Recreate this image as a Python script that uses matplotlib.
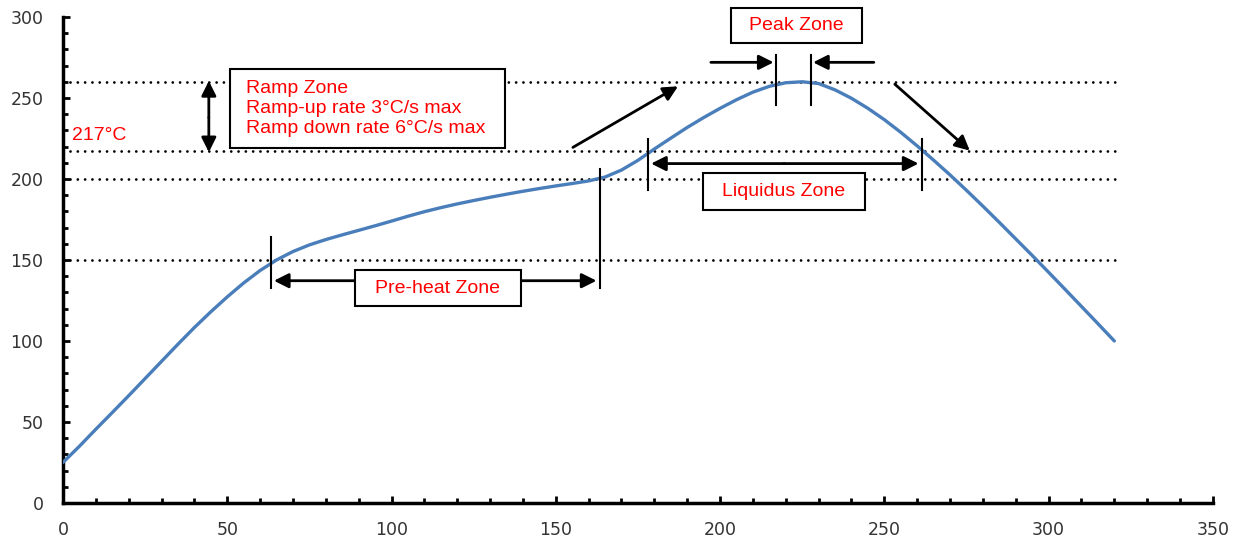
import numpy as np
import matplotlib
matplotlib.use("Agg")
import matplotlib.pyplot as plt
from matplotlib.patches import Rectangle

ftsize = 12.5
txtsize = 14

### Profil de refusion

temps = [0, 5, 10, 15, 20, 25, 30, 35, 40, 45, 50, 55, 60, 65, 70, 75, 80, 85, 90, 95,
         100, 105, 110, 115, 120, 125, 130, 135, 140, 145, 150, 155, 160, 165, 170, 175,
         180, 185, 190, 195, 200, 205, 210, 215, 220, 225, 230, 235, 240, 245, 250, 255,
         260, 265, 270, 275, 280, 285, 290, 295, 300, 305, 310, 315, 320]
temp = [25, 35, 45.5, 55.8, 66.2, 76.8, 87.4, 98, 108.3, 118, 127.2, 135.8, 143.5, 150, 155.2, 159.3,
        162.6, 165.5, 168.3, 171.1, 174, 177, 179.8, 182.3, 184.6, 186.7, 188.7, 190.6, 192.4, 194.1,
        195.7, 197.2, 198.8, 201.2, 205.5, 211.5, 218.5, 225.2, 231.8, 237.9, 243.6, 248.9, 253.6,
        257.2, 259.4, 260, 258.9, 255, 249.8, 243.6, 236.6, 228.8, 220.4, 211.6, 202.5, 193, 183.2,
        173.2, 163, 152.8, 142.4, 131.9, 121.3, 110.7, 100]

niveaux = [260, 217, 200, 150]

xticks = [0, 50, 100, 150, 200, 250, 300, 350]
yticks = [0, 50, 100, 150, 200, 250, 300]

rouge = '#ff0000'
police = 'Liberation Sans'

fig = plt.figure(figsize=(12.44, 5.44), dpi=100)
ax = fig.add_axes([0.0506, 0.0754, 0.9244, 0.8934])

for n in niveaux:
    ax.plot([2, 321], [n, n], color='k', lw=2, linestyle=(0, (0.01, 2.62)),
            dash_capstyle='round', zorder=1)

ax.plot(temps, temp, color='#4a7ebb', lw=2.4, solid_joinstyle='round',
        solid_capstyle='round', zorder=3)

def fleche(x0, y0, x1, y1):
    ax.annotate('', xy=(x1, y1), xytext=(x0, y0),
                arrowprops=dict(arrowstyle='-|>', color='k', lw=2,
                                mutation_scale=22, shrinkA=0, shrinkB=0),
                annotation_clip=False, zorder=4)

def boite(x0, x1, y0, y1):
    ax.add_patch(Rectangle((x0, y0), x1 - x0, y1 - y0, facecolor='white',
                           edgecolor='k', lw=1.5, zorder=5, clip_on=False))

def trait(x, y0, y1):
    ax.plot([x, x], [y0, y1], color='k', lw=1.5, zorder=4, clip_on=False)

def texte(x, y, s, ha='left'):
    ax.text(x, y, s, color=rouge, fontsize=txtsize, ha=ha, va='center',
            zorder=6, family=police)

### Ramp zone
fleche(44.4, 238, 44.4, 260.5)
fleche(44.4, 238, 44.4, 216.5)
boite(50.8, 134.5, 219, 268)
texte(55.7, 256, 'Ramp Zone')
texte(55.7, 243.5, 'Ramp-up rate 3°C/s max')
texte(55.7, 231, 'Ramp down rate 6°C/s max')
texte(2.7, 227, '217°C')

### Peak zone
boite(203.3, 243.2, 283.7, 305.8)
texte(223.3, 294.8, 'Peak Zone', ha='center')
trait(217, 245.5, 276.3)
trait(227.6, 245.5, 276.3)
fleche(197.2, 272, 216.3, 272)
fleche(246.8, 272, 228.3, 272)

### Fleches diagonales
fleche(155.2, 219.5, 187.2, 257.2)
fleche(253.2, 258.5, 276, 217.5)

### Liquidus zone
trait(178, 193.2, 224.6)
trait(261.4, 193.2, 224.6)
fleche(219.5, 209.5, 179, 209.5)
fleche(219.5, 209.5, 260.4, 209.5)
boite(194.8, 244.1, 181, 203.7)
texte(219.4, 192.3, 'Liquidus Zone', ha='center')

### Pre-heat zone
trait(63.2, 133, 164.3)
trait(163.4, 133, 206)
fleche(113, 137.2, 64.2, 137.2)
fleche(113, 137.2, 162.4, 137.2)
boite(88.9, 139.4, 121.8, 144)
texte(114.1, 132.6, 'Pre-heat Zone', ha='center')

### Axes
ax.set_xlim(0, 350)
ax.set_ylim(0, 300)
ax.set_xticks(xticks)
ax.set_yticks(yticks)
ax.set_xticks(np.arange(0, 351, 10), minor=True)
ax.set_yticks(np.arange(0, 301, 10), minor=True)
ax.spines['top'].set_visible(False)
ax.spines['right'].set_visible(False)
ax.spines['left'].set_linewidth(2.5)
ax.spines['bottom'].set_linewidth(2.5)
ax.tick_params(which='major', direction='in', length=5, width=2, labelsize=ftsize,
               labelcolor='#333333')
ax.tick_params(which='minor', direction='in', length=3.5, width=2)
ax.tick_params(axis='y', which='major', pad=14)
ax.tick_params(axis='x', which='major', pad=13)

plt.savefig('out.png', dpi=100)
